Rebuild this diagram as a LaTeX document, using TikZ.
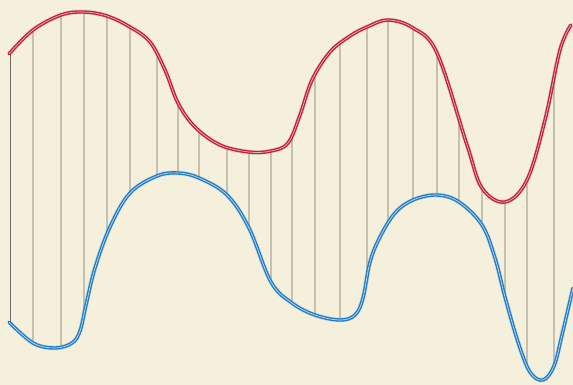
\documentclass[tikz,border=0pt]{standalone}
\usetikzlibrary{intersections}
\definecolor{paper}{RGB}{245,240,219}
\definecolor{crim}{RGB}{198,30,62}
\definecolor{crimin}{RGB}{238,175,188}
\definecolor{azure}{RGB}{32,126,198}
\definecolor{azin}{RGB}{185,218,240}
\definecolor{rulegray}{RGB}{108,108,108}
\pgfdeclarelayer{paperlayer}
\pgfdeclarelayer{rulelayer}
\pgfsetlayers{paperlayer,rulelayer,main}
\begin{document}
\begin{tikzpicture}[x=1pt,y=-1pt,
  redcurve/.style={preaction={draw=black!35,line width=4.8pt,opacity=.3},
    draw=crim, double=crimin, double distance=0.7pt, line width=1.35pt, line cap=round},
  bluecurve/.style={preaction={draw=black!35,line width=4.8pt,opacity=.3},
    draw=azure, double=azin, double distance=0.7pt, line width=1.35pt, line cap=round},
  rule/.style={draw=rulegray, line width=0.9pt}]
\begin{pgfonlayer}{paperlayer}
\fill[paper] (0,0) rectangle (573,385);
\end{pgfonlayer}
\useasboundingbox (0,0) rectangle (573,385);
\draw[redcurve, name path=redp] plot[smooth, tension=0.6] coordinates {
 (9,54) (33,30) (61,15) (84,12) (107,16) (130,27) (150,42) (165,70) (178,103)
 (195,127) (220,145) (249,152) (271,151) (288,143) (300,115) (312,80) (330,52)
 (350,36) (367,27) (388,20) (413,28) (437,53) (467,145) (482,188)
 (505,202) (527,180) (545,120) (560,50) (571,25)};
\draw[bluecurve, name path=bluep] plot[smooth, tension=0.6] coordinates {
 (9,322) (33,343) (55,348) (72,343) (80,331) (86,305) (95,268) (110,227)
 (130,193) (157,176) (178,173) (199,178) (227,195) (249,228) (271,282)
 (292,303) (315,315) (340,320) (355,315) (363,298) (370,262) (380,237)
 (395,213) (413,200) (437,195) (459,202) (482,225) (495,258) (505,297)
 (518,342) (530,372) (543,380) (554,366) (562,335) (573,288)};
\foreach \x [count=\i] in {10.5,33,61,84,107,130,157,178,199,227,249,271,292,315,340,367,388,413,437,459,482,505,527,554} {
  \path[name path=v\i] (\x,0) -- (\x,385);
  \path[name intersections={of=redp and v\i, by={r\i}}];
  \path[name intersections={of=bluep and v\i, by={b\i}}];
  \begin{pgfonlayer}{rulelayer}
  \draw[rule] (r\i) -- (b\i);
  \end{pgfonlayer}
}
\end{tikzpicture}
\end{document}
